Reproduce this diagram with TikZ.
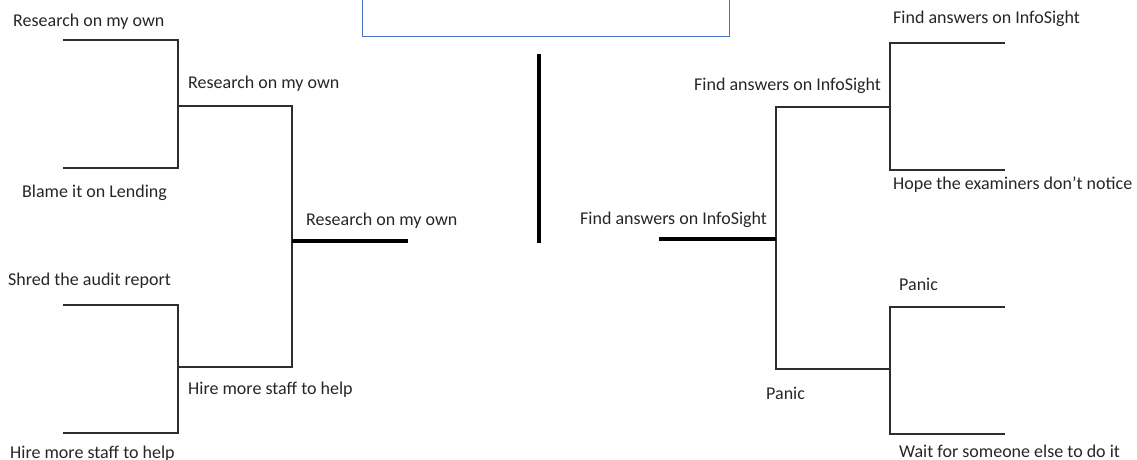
\documentclass[tikz,border=0pt]{standalone}
\usepackage{fontspec}
\setmainfont{Carlito}
\definecolor{boxblue}{RGB}{68,114,196}
\definecolor{linegray}{RGB}{45,45,45}
\begin{document}
\begin{tikzpicture}[x=1pt,y=-1pt,
  lbl/.style={anchor=west,inner sep=0pt,font=\fontsize{18}{21}\selectfont,text=black!85},
  bline/.style={draw=linegray,line width=2pt,line cap=rect,line join=miter},
  thick line/.style={draw=black,line width=3.5pt},
  topbox/.style={draw=boxblue,line width=1pt}]
\useasboundingbox (0,0) rectangle (1137,459);
% top box
\coordinate (B1) at (362,-5);
\coordinate (B2) at (729,36);
\draw[topbox] (B1) rectangle (B2);
% centre divider
\coordinate (C1) at (539,54);
\coordinate (C2) at (539,243);
\draw[thick line] (C1) -- (C2);
% ---------- left bracket ----------
\coordinate (LA1) at (64,40);   \coordinate (LA2) at (178,40);
\coordinate (LA3) at (178,168); \coordinate (LA4) at (64,168);
\coordinate (LAm) at (178,106);
\coordinate (LB1) at (64,305);  \coordinate (LB2) at (178,305);
\coordinate (LB3) at (178,433); \coordinate (LB4) at (64,433);
\coordinate (LBm) at (178,367);
\coordinate (LC1) at (292,106); \coordinate (LC2) at (292,367);
\coordinate (LCm) at (292,241); \coordinate (LF) at (408,241);
\draw[bline] (LA1) -- (LA2) -- (LA3) -- (LA4);
\draw[bline] (LB1) -- (LB2) -- (LB3) -- (LB4);
\draw[bline] (LAm) -- (LC1) -- (LC2) -- (LBm);
\draw[thick line] (LCm) -- (LF);
\node[lbl] (t1) at (13,22) {Research on my own};
\node[lbl] (t2) at (22,193) {Blame it on Lending};
\node[lbl] (t3) at (188,84) {Research on my own};
\node[lbl] (t4) at (306,221) {Research on my own};
\node[lbl] (t5) at (8,281) {Shred the audit report};
\node[lbl] (t6) at (188,390) {Hire more staff to help};
\node[lbl] (t7) at (10,454) {Hire more staff to help};
% ---------- right bracket ----------
\coordinate (RA1) at (1004,43);  \coordinate (RA2) at (890,43);
\coordinate (RA3) at (890,170);  \coordinate (RA4) at (1004,170);
\coordinate (RAm) at (890,107);
\coordinate (RB1) at (1004,307); \coordinate (RB2) at (890,307);
\coordinate (RB3) at (890,434);  \coordinate (RB4) at (1004,434);
\coordinate (RBm) at (890,369);
\coordinate (RC1) at (776,107);  \coordinate (RC2) at (776,369);
\coordinate (RCm) at (776,239);  \coordinate (RF) at (659,239);
\draw[bline] (RA1) -- (RA2) -- (RA3) -- (RA4);
\draw[bline] (RB1) -- (RB2) -- (RB3) -- (RB4);
\draw[bline] (RAm) -- (RC1) -- (RC2) -- (RBm);
\draw[thick line] (RCm) -- (RF);
\node[lbl] (u1) at (893,19) {Find answers on InfoSight};
\node[lbl] (u2) at (694,86) {Find answers on InfoSight};
\node[lbl] (u3) at (893,185) {Hope the examiners don’t notice};
\node[lbl] (u4) at (580,220) {Find answers on InfoSight};
\node[lbl] (u5) at (899,284) {Panic};
\node[lbl] (u6) at (766,393) {Panic};
\node[lbl] (u7) at (899,451) {Wait for someone else to do it};
\end{tikzpicture}
\end{document}
